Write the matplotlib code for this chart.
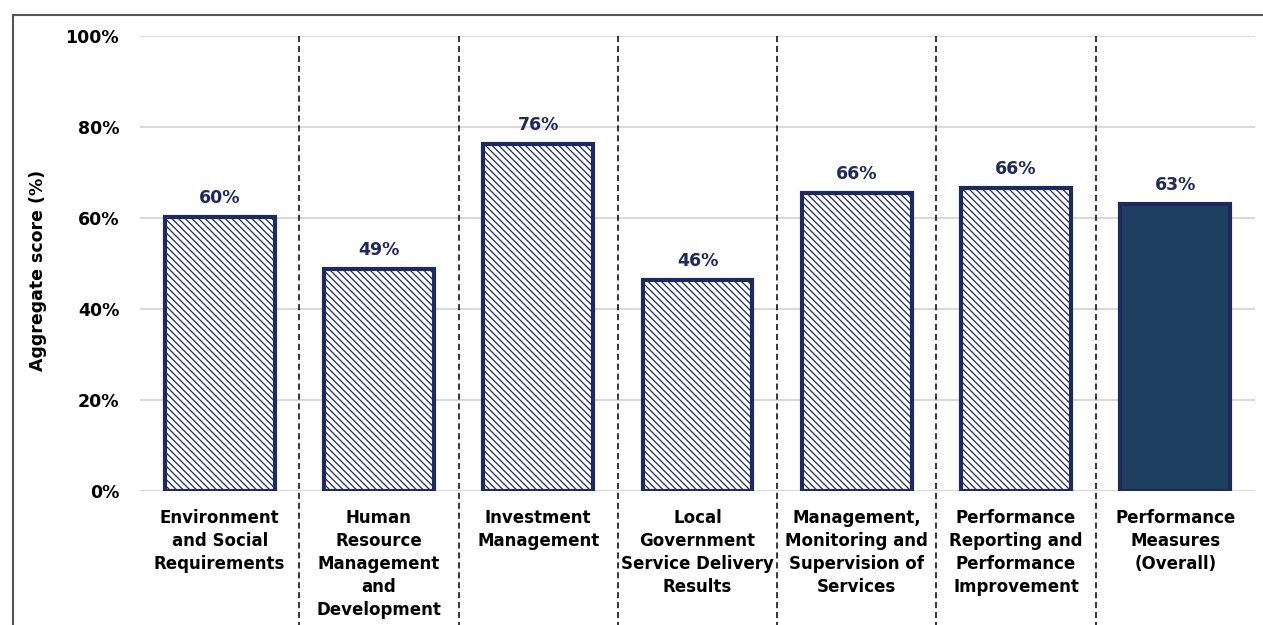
import matplotlib
matplotlib.use("Agg")
import matplotlib.pyplot as plt
from matplotlib.lines import Line2D

categories = [
    "Environment\nand Social\nRequirements",
    "Human\nResource\nManagement\nand\nDevelopment",
    "Investment\nManagement",
    "Local\nGovernment\nService Delivery\nResults",
    "Management,\nMonitoring and\nSupervision of\nServices",
    "Performance\nReporting and\nPerformance\nImprovement",
    "Performance\nMeasures\n(Overall)",
]
values = [60.2, 48.8, 76.3, 46.4, 65.5, 66.6, 63.1]
labels = ["60%", "49%", "76%", "46%", "66%", "66%", "63%"]
yticks = [0, 20, 40, 60, 80, 100]
ytick_labels = ["0%", "20%", "40%", "60%", "80%", "100%"]

navy = "#1F2A5C"
dark_fill = "#1F3F60"

plt.rcParams["font.family"] = ["DejaVu Sans"]
plt.rcParams["hatch.color"] = "#23426A"
plt.rcParams["hatch.linewidth"] = 0.9

W, H = 1263, 625
fig = plt.figure(figsize=(W / 100, H / 100), dpi=100)
ax = fig.add_axes([140 / W, 1 - 491 / H, (1255 - 140) / W, (491 - 36) / H])

x = list(range(len(categories)))
for i, v in enumerate(values):
    if i == len(values) - 1:
        ax.bar(i, v, width=0.69, color=dark_fill, edgecolor=navy, linewidth=3, zorder=3)
    else:
        ax.bar(i, v, width=0.69, color="white", edgecolor=navy, linewidth=3,
               hatch="\\" * 5, zorder=3)
    ax.text(i, v + 2.2, labels[i], ha="center", va="bottom", fontsize=12.5,
            fontweight="bold", color=navy)

ax.set_xlim(-0.5, len(categories) - 0.5)
ax.set_ylim(0, 100)
ax.set_yticks(yticks)
ax.set_yticklabels(ytick_labels, fontsize=12.5, fontweight="bold")
ax.set_xticks(x)
ax.set_xticklabels(categories, fontsize=12, fontweight="bold", linespacing=1.35, va="top")
ax.tick_params(axis="both", length=0)
ax.tick_params(axis="y", pad=15)
ax.tick_params(axis="x", pad=13)
for s in ax.spines.values():
    s.set_visible(False)
ax.yaxis.grid(True, color="#D9D9D9", linewidth=1.5, zorder=0)
ax.set_axisbelow(True)
ax.set_ylabel("Aggregate score (%)", fontsize=12.5, fontweight="bold")
ax.yaxis.set_label_coords(-0.083, 0.485)

# dashed dividers between categories, extending to bottom of figure
bottom_ax = -(625 - 491) / (491 - 36)
for k in range(len(categories) - 1):
    ax.add_line(Line2D([k + 0.5, k + 0.5], [1.0, bottom_ax], transform=ax.get_xaxis_transform(),
                       color="black", linestyle=(0, (4, 2.5)), linewidth=1.1, clip_on=False, zorder=4))

# outer border (top and left)
fig.add_artist(Line2D([13 / W, 13 / W], [0, 1 - 15 / H], transform=fig.transFigure,
                      color="#555555", linewidth=1.5))
fig.add_artist(Line2D([13 / W, 1], [1 - 15 / H, 1 - 15 / H], transform=fig.transFigure,
                      color="#555555", linewidth=1.5))

fig.savefig("out.png", dpi=100)
